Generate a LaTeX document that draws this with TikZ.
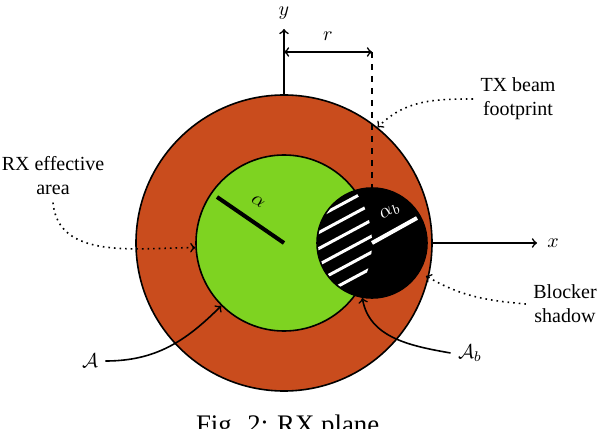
\documentclass[tikz,border=0pt]{standalone}
\usepackage{fontspec}
\setmainfont{Liberation Serif}
\usetikzlibrary{arrows,calc}
\definecolor{myorange}{HTML}{C94C1D}
\definecolor{mygreen}{HTML}{7ED321}

\begin{document}
\begin{tikzpicture}[x=0.5pt,y=0.5pt,>=to,thick,
    lbl/.style={align=center},
    disc/.style={circle,draw,inner sep=0pt},
    pointer/.style={->,thick},
    dotpointer/.style={->,thick,dotted},
    hatch/.style={white,line width=1.5pt}]

      \useasboundingbox (0,0) rectangle (598,428);

      \pgfmathsetmacro{\cx}{284}
      \pgfmathsetmacro{\cy}{185}
      \pgfmathsetmacro{\bx}{372}
      \pgfmathsetmacro{\rY}{376}

      % axes
      \coordinate (o) at (\cx,\cy);
      \coordinate (xend) at (537,\cy);
      \coordinate (yend) at (\cx,399);
      \draw [->] (o) -- (xend);
      \draw [->] (o) -- (yend);
      \node [name=xl] at (553,\cy) {$x$};
      \node [name=yl] at (\cx,415) {$y$};

      % beam footprint, RX area, blocker
      \node [name=rx, disc, fill=myorange, minimum size=148pt] at (o) {};
      \node [name=rxeff, disc, fill=mygreen, minimum size=88pt] at (o) {};
      \node [name=blocker, disc, fill=black, minimum size=55pt] at (\bx,\cy) {};

      % shadowed part of RX area
      \begin{scope}
        \clip (o) circle [radius=88];
        \clip (blocker.center) circle [radius=54];
        \foreach \c in {240,224,208,192,176,160}
          \draw [hatch] (300,{\c-38.6}) -- (380,{\c+4.3});
      \end{scope}

      % radii
      \draw [line width=2pt] (o) -- (217,231);
      \node [name=al, rotate=-34] at (258,226) {$\alpha$};
      \draw [white, line width=2pt] (blocker.center) -- (417,210);
      \node [name=alb, white, rotate=31] at (390,216) {$\alpha_b$};

      % r
      \coordinate (rl) at (\cx,\rY);
      \coordinate (rr) at (\bx,\rY);
      \draw [<->] (rl) -- (rr);
      \node [name=rlab] at (328,392) {$r$};
      \draw [dashed] (rr) -- (blocker.north);

      % labels
      \node [name=tx, lbl] at (518,329) {TX beam\\footprint};
      \node [name=rxa, lbl] at (53,252) {RX effective\\area};
      \node [name=bs, lbl] at (565,124) {Blocker\\shadow};
      \node [name=A] at (90,67) {$\mathcal{A}$};
      \node [name=Ab] at (470,75) {$\mathcal{A}_b$};
      \coordinate (shadowtip) at (426,152);

      \draw [dotpointer] (tx.west) to [out=180, in=45] (rx.51);
      \draw [dotpointer] (rxa.south) to [out=-85, in=180] (rxeff.183);
      \draw [dotpointer] (bs.west) to [out=175, in=-30] (shadowtip);
      \draw [pointer] (A.east) to [out=0, in=225] (rxeff.225);
      \draw [pointer] (Ab.west) to [out=170, in=-80] (blocker.260);

      % caption
      \node [name=cap, anchor=base, font=\fontsize{13.4}{16}\selectfont] at (291,-5) {Fig. 2: RX plane.};

\end{tikzpicture}
\end{document}
